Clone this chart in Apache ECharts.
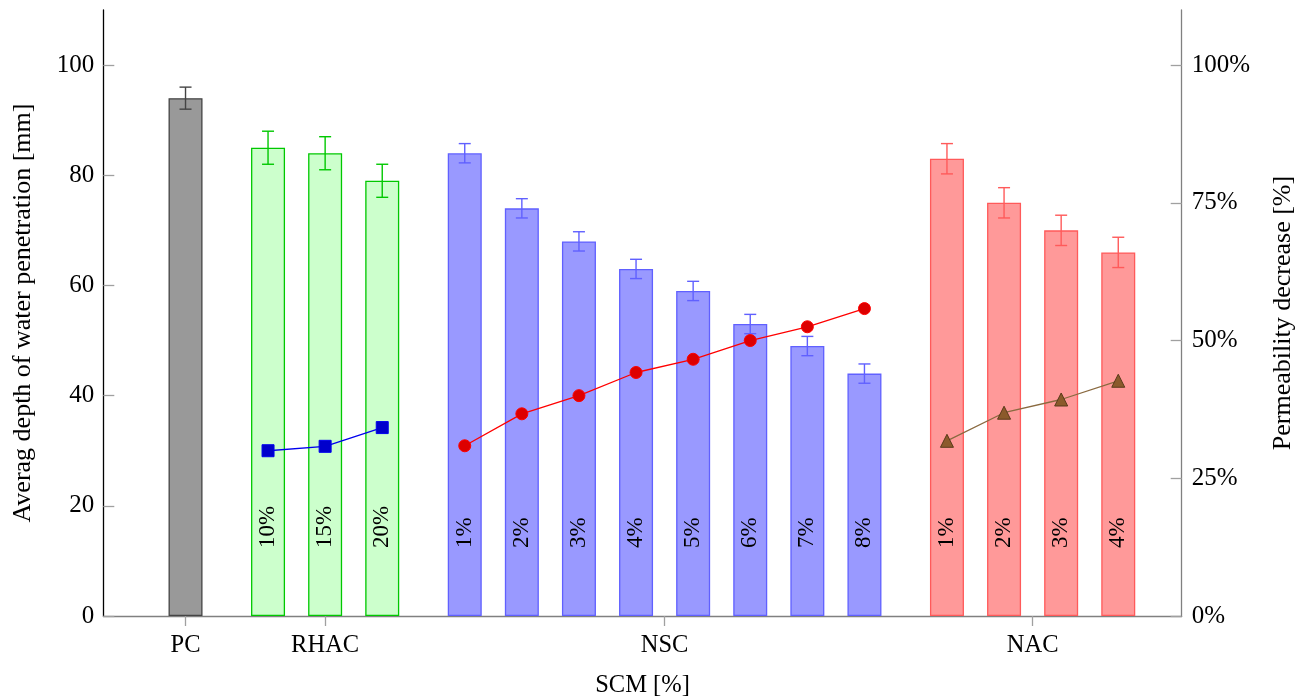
<!DOCTYPE html>
<html>
<head>
<meta charset="utf-8">
<script src="https://cdn.jsdelivr.net/npm/echarts@6/dist/echarts.min.js"></script>
<style>html,body{margin:0;padding:0;background:#fff;}#c{width:1311px;height:699px;}</style>
</head>
<body>
<div id="c"></div>
<script>
// ---- data ----
var groupNames = ['PC', 'RHAC', 'NSC', 'NAC'];
var pcLabels = [''];
var pcDepth = [94];
var pcErr = [2];
var rhacLabels = ['10%', '15%', '20%'];
var rhacDepth = [85, 84, 79];
var rhacErr = [3, 3, 3];
var rhacPerm = [30.0, 30.8, 34.2];
var nscLabels = ['1%', '2%', '3%', '4%', '5%', '6%', '7%', '8%'];
var nscDepth = [84, 74, 68, 63, 59, 53, 49, 44];
var nscErr = [1.75, 1.75, 1.75, 1.75, 1.75, 1.75, 1.75, 1.75];
var nscPerm = [30.9, 36.7, 40.0, 44.2, 46.6, 50.0, 52.5, 55.8];
var nacLabels = ['1%', '2%', '3%', '4%'];
var nacDepth = [83, 75, 70, 66];
var nacErr = [2.75, 2.75, 2.75, 2.75];
var nacPerm = [31.8, 36.9, 39.3, 42.7];
var leftTicks = [0, 20, 40, 60, 80, 100];
var rightTicks = [0, 25, 50, 75, 100];

// ---- layout / styles ----
var FONT = 'Liberation Serif';
var styles = [
  {fill: '#999999', stroke: '#444444'},
  {fill: '#ccffcc', stroke: '#00c800'},
  {fill: '#9999ff', stroke: '#6060ff'},
  {fill: '#ff9999', stroke: '#ff5a5a'}
];
var groups = [
  {labels: pcLabels, depth: pcDepth, err: pcErr},
  {labels: rhacLabels, depth: rhacDepth, err: rhacErr},
  {labels: nscLabels, depth: nscDepth, err: nscErr},
  {labels: nacLabels, depth: nacDepth, err: nacErr}
];
var START = 1.44, GROUPGAP = 0.445, XMAX = 18.886;
var barItems = [], errItems = [], groupCenters = [], groupX = [];
var idx = 0;
groups.forEach(function (g, gi) {
  var xs = [];
  g.depth.forEach(function (d, i) {
    var x = START + idx + gi * GROUPGAP;
    xs.push(x);
    barItems.push({
      value: [x, d],
      itemStyle: {color: styles[gi].fill, borderColor: styles[gi].stroke, borderWidth: 1.3},
      label: {formatter: g.labels[i]}
    });
    errItems.push({value: [x, d, g.err[i]], color: styles[gi].stroke});
    idx++;
  });
  groupX.push(xs);
  groupCenters.push((xs[0] + xs[xs.length - 1]) / 2);
});
function lineData(xs, vals) { return vals.map(function (v, i) { return [xs[i], v]; }); }

var chart = echarts.init(document.getElementById('c'));
chart.setOption({
  animation: false,
  grid: {left: 103.3, right: 129.3, top: 10, bottom: 83, containLabel: false, outerBoundsMode: 'none'},
  xAxis: {
    type: 'value', min: 0, max: XMAX,
    name: 'SCM [%]', nameLocation: 'middle', nameGap: 57,
    nameTextStyle: {fontFamily: FONT, fontSize: 24.5, color: '#000'},
    axisLine: {lineStyle: {color: '#808080', width: 1.3}},
    axisTick: {show: true, inside: false, length: 10, customValues: groupCenters, lineStyle: {color: '#a0a0a0', width: 1.3}},
    axisLabel: {
      customValues: groupCenters, margin: 17,
      fontFamily: FONT, fontSize: 24.5, color: '#000',
      formatter: function (v) {
        for (var i = 0; i < groupCenters.length; i++) if (Math.abs(groupCenters[i] - v) < 1e-6) return groupNames[i];
        return '';
      }
    },
    splitLine: {show: false}
  },
  yAxis: [{
    type: 'value', min: 0, max: 110,
    name: 'Averag depth of water penetration [mm]', nameLocation: 'middle', nameGap: 67, nameRotate: 90,
    nameTextStyle: {fontFamily: FONT, fontSize: 26, color: '#000'},
    axisLine: {show: true, lineStyle: {color: '#000', width: 1.3}},
    axisTick: {show: true, inside: true, length: 11, customValues: leftTicks, lineStyle: {color: '#a0a0a0', width: 1.3}},
    axisLabel: {customValues: leftTicks, margin: 9, fontFamily: FONT, fontSize: 25, color: '#000'},
    splitLine: {show: false}
  }, {
    type: 'value', min: 0, max: 110, position: 'right',
    name: 'Permeability decrease [%]', nameLocation: 'middle', nameGap: 88, nameRotate: 90,
    nameTextStyle: {fontFamily: FONT, fontSize: 26, color: '#000'},
    axisLine: {show: true, lineStyle: {color: '#808080', width: 1.3}},
    axisTick: {show: true, inside: true, length: 11, customValues: rightTicks, lineStyle: {color: '#a0a0a0', width: 1.3}},
    axisLabel: {customValues: rightTicks, margin: 10, fontFamily: FONT, fontSize: 25, color: '#000', formatter: '{value}%'},
    splitLine: {show: false}
  }],
  series: [{
    type: 'bar', xAxisIndex: 0, yAxisIndex: 0, barWidth: 34,
    data: barItems,
    label: {
      show: true, position: 'insideBottom', rotate: 90, align: 'left', verticalAlign: 'middle',
      distance: 68, fontFamily: FONT, fontSize: 23, color: '#000'
    },
    z: 2
  }, {
    type: 'custom', xAxisIndex: 0, yAxisIndex: 0, z: 3,
    data: errItems,
    renderItem: function (params, api) {
      var x = api.value(0), y = api.value(1), e = api.value(2);
      var top = api.coord([x, y + e]), bot = api.coord([x, y - e]);
      var c = errItems[params.dataIndex].color;
      var st = {stroke: c, lineWidth: 1.4};
      return {type: 'group', children: [
        {type: 'line', shape: {x1: top[0], y1: top[1], x2: bot[0], y2: bot[1]}, style: st},
        {type: 'line', shape: {x1: top[0] - 6, y1: top[1], x2: top[0] + 6, y2: top[1]}, style: st},
        {type: 'line', shape: {x1: bot[0] - 6, y1: bot[1], x2: bot[0] + 6, y2: bot[1]}, style: st}
      ]};
    }
  }, {
    type: 'line', xAxisIndex: 0, yAxisIndex: 1, z: 5,
    data: lineData(groupX[1], rhacPerm),
    symbol: 'rect', symbolSize: 12,
    lineStyle: {color: '#0000ee', width: 1.3},
    itemStyle: {color: '#0000cc', borderColor: '#0000ee', borderWidth: 1}
  }, {
    type: 'line', xAxisIndex: 0, yAxisIndex: 1, z: 5,
    data: lineData(groupX[2], nscPerm),
    symbol: 'circle', symbolSize: 12,
    lineStyle: {color: '#ff0000', width: 1.3},
    itemStyle: {color: '#dd0000', borderColor: '#ff0000', borderWidth: 1}
  }, {
    type: 'line', xAxisIndex: 0, yAxisIndex: 1, z: 5,
    data: lineData(groupX[3], nacPerm),
    symbol: 'triangle', symbolSize: 13,
    lineStyle: {color: '#8a6a40', width: 1.3},
    itemStyle: {color: '#8b5a2b', borderColor: '#5a3a1a', borderWidth: 1}
  }]
});
</script>
</body>
</html>
